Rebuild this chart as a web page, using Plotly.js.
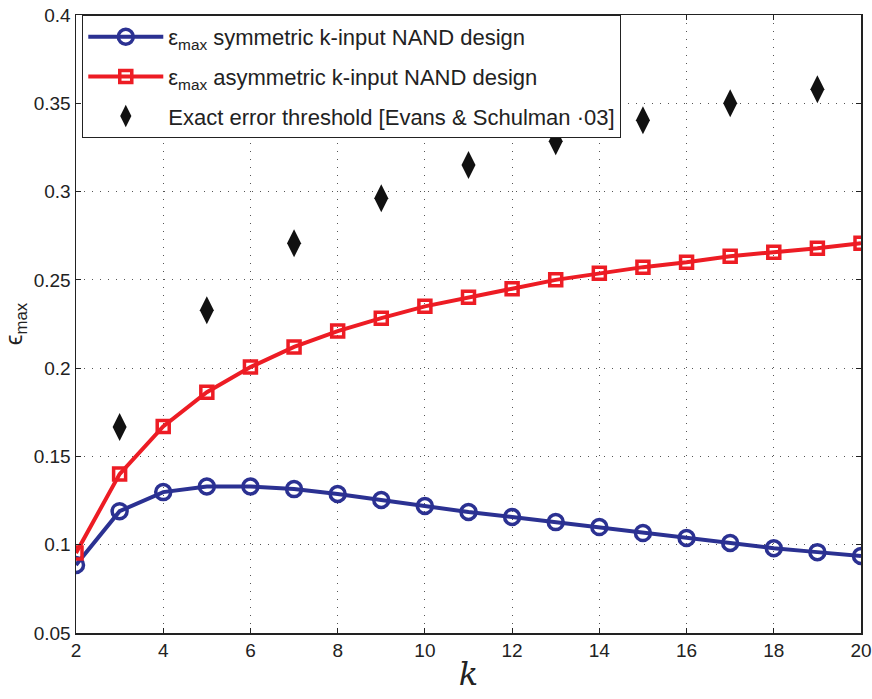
<!DOCTYPE html>
<html>
<head>
<meta charset="utf-8">
<script src="https://cdn.plot.ly/plotly-3.0.1.min.js"></script>
<style>html,body{margin:0;padding:0;background:#fff}#chart{width:872px;height:699px}</style>
</head>
<body>
<div id="chart"></div>
<script>
const kAll = [2,3,4,5,6,7,8,9,10,11,12,13,14,15,16,17,18,19,20];
const symmetricEps = [0.0885,0.119,0.1298,0.133,0.133,0.1315,0.1287,0.1253,0.1219,0.1185,0.1157,0.1128,0.110,0.1066,0.1038,0.101,0.098,0.0958,0.0936];
const asymmetricEps = [0.0953,0.140,0.167,0.1864,0.2006,0.212,0.221,0.2283,0.235,0.2402,0.245,0.250,0.2538,0.2572,0.260,0.2634,0.2657,0.2679,0.2707];
const kOdd = [3,5,7,9,11,13,15,17,19];
const exactThreshold = [0.1666,0.2328,0.2707,0.2962,0.315,0.3285,0.3404,0.350,0.3579];
const xTicks = [2,4,6,8,10,12,14,16,18,20];
const yTicks = [0.05,0.1,0.15,0.2,0.25,0.3,0.35,0.4];
const yTickText = ['0.05','0.1','0.15','0.2','0.25','0.3','0.35','0.4'];

const blue = 'rgb(43,49,146)';
const red = 'rgb(237,28,36)';

const traces = [
  {x: kAll, y: symmetricEps, mode: 'lines+markers', name: 'ε<sub>max</sub> symmetric k-input NAND design',
   legendgroup: 'a',
   line: {color: blue, width: 4},
   marker: {symbol: 'circle-open', size: 15, color: blue, line: {width: 3.5, color: blue}}},
  {x: kAll, y: asymmetricEps, mode: 'lines+markers', name: 'ε<sub>max</sub> asymmetric k-input NAND design',
   legendgroup: 'b',
   line: {color: red, width: 4},
   marker: {symbol: 'square-open', size: 12, color: red, line: {width: 3.5, color: red}}},
  {x: kOdd, y: exactThreshold, mode: 'markers', name: 'Exact error threshold [Evans & Schulman ·03]',
   legendgroup: 'c',
   marker: {symbol: 'diamond-tall', size: 20, color: '#111'}}
];

const axisCommon = {
  showline: true, linecolor: '#222', linewidth: 1.5, mirror: 'ticks',
  ticks: 'inside', ticklen: 5, tickcolor: '#222', tickwidth: 1,
  showgrid: true, gridcolor: '#555', griddash: '1px,7px', gridwidth: 1.2,
  zeroline: false,
  tickfont: {family: 'Liberation Sans, Arial, sans-serif', size: 19, color: '#222'}
};

const layout = {
  width: 872, height: 699,
  margin: {l: 76, r: 11, t: 15, b: 66},
  paper_bgcolor: '#fff', plot_bgcolor: '#fff',
  font: {family: 'Liberation Sans, Arial, sans-serif', color: '#222'},
  xaxis: Object.assign({}, axisCommon, {
    range: [2, 20], tickvals: xTicks, ticktext: xTicks.map(String),
    title: {text: '<i>k</i>', font: {family: 'DejaVu Serif, serif', size: 32, color: '#222'}, standoff: 2}
  }),
  yaxis: Object.assign({}, axisCommon, {
    range: [0.05, 0.4], tickvals: yTicks, ticktext: yTickText,
    title: {text: 'ϵ<sub>max</sub>', font: {family: 'Liberation Sans, Arial, sans-serif', size: 24, color: '#222'}, standoff: 6}
  }),
  showlegend: true,
  legend: {
    x: 0.008, y: 1, xanchor: 'left', yanchor: 'top',
    bgcolor: '#fff', bordercolor: '#222', borderwidth: 1,
    font: {family: 'Liberation Sans, Arial, sans-serif', size: 22, color: '#222'},
    itemwidth: 75,
    traceorder: 'grouped', tracegroupgap: 8
  }
};

Plotly.newPlot('chart', traces, layout, {displayModeBar: false, staticPlot: true});
</script>
</body>
</html>
